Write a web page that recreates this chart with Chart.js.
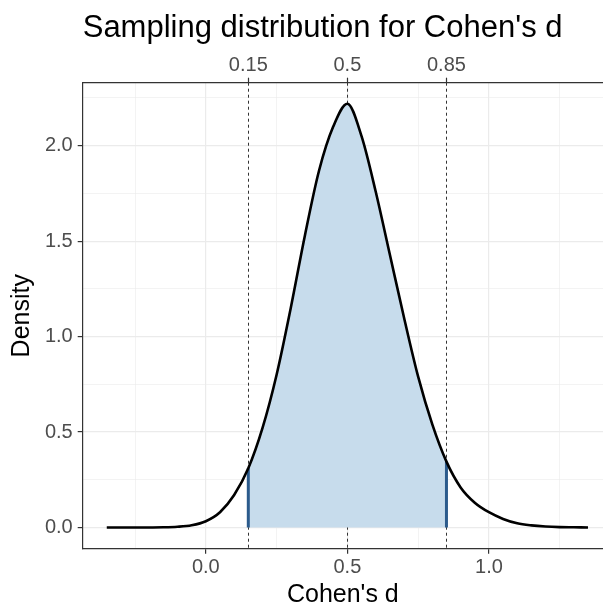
<!DOCTYPE html>
<html>
<head>
<meta charset="utf-8">
<script src="https://cdn.jsdelivr.net/npm/chart.js@4.4.1/dist/chart.umd.min.js"></script>
<style>
  html, body { margin: 0; padding: 0; background: #fff; overflow: hidden; }
  #wrap { width: 603px; height: 610px; }
</style>
</head>
<body>
<div id="wrap"><canvas id="cohenChart" width="603" height="610"></canvas></div>
<script>
// values
const cohensD = [
  -0.35, -0.3, -0.25, -0.2, -0.15, -0.1, -0.05, 0, 0.05, 0.1, 0.15, 0.2,
  0.25, 0.3, 0.35, 0.4, 0.45, 0.5, 0.55, 0.6, 0.65, 0.7, 0.75, 0.8, 0.85,
  0.9, 0.95, 1, 1.05, 1.1, 1.15, 1.2, 1.25, 1.3, 1.35,
];
const density = [
  0, 0, 0, 0.0003, 0.001, 0.004, 0.012, 0.033, 0.08, 0.17, 0.31, 0.52,
  0.8, 1.15, 1.53, 1.87, 2.1, 2.22, 2.05, 1.76, 1.43, 1.1, 0.79, 0.54, 0.345,
  0.21, 0.13, 0.08, 0.045, 0.022, 0.011, 0.005, 0.002, 0.001, 0,
];
const markers = [0.15, 0.5, 0.85];
const shadeFrom = 0.15;
const shadeTo = 0.85;
const xTicks = [-0.25, 0, 0.25, 0.5, 0.75, 1, 1.25];
const xMajor = [0, 0.5, 1];
const yTicks = [0, 0.25, 0.5, 0.75, 1, 1.25, 1.5, 1.75, 2, 2.25];
const yMajor = [0, 0.5, 1, 1.5, 2];
// the panel runs past the right edge of the picture, so it is cut at 1.403
const xRange = [-0.435, 1.403];
const yRange = [-0.111, 2.33];
const chartTitle = "Sampling distribution for Cohen's d";

const font = '"Liberation Sans", Arial, sans-serif';
const isMajor = (list, v) => list.some((m) => Math.abs(m - v) < 1e-9);
const points = cohensD.map((d, i) => ({ x: d, y: density[i] }));
const heightAt = (v) => density[cohensD.findIndex((d) => Math.abs(d - v) < 1e-9)];
const inShade = (v) => v >= shadeFrom - 1e-9 && v <= shadeTo + 1e-9;

const setTicks = (list) => (axis) => {
  axis.ticks = list.map((v) => ({ value: v }));
};

const ctx = document.getElementById("cohenChart");

new Chart(ctx, {
  type: "line",
  data: {
    datasets: [
      {
        label: "density",
        data: points,
        borderColor: "#000",
        borderWidth: 2.6,
        pointRadius: 0,
        fill: false,
        cubicInterpolationMode: "monotone",
      },
      {
        label: "lower",
        data: [{ x: shadeFrom, y: 0 }, { x: shadeFrom, y: heightAt(shadeFrom) }],
        borderColor: "#2c5b8c",
        borderWidth: 3,
        pointRadius: 0,
        fill: false,
      },
      {
        label: "upper",
        data: [{ x: shadeTo, y: 0 }, { x: shadeTo, y: heightAt(shadeTo) }],
        borderColor: "#2c5b8c",
        borderWidth: 3,
        pointRadius: 0,
        fill: false,
      },
      {
        label: "shade",
        data: points,
        borderWidth: 0,
        borderColor: "rgba(0,0,0,0)",
        pointRadius: 0,
        cubicInterpolationMode: "monotone",
        fill: "origin",
        backgroundColor: "#c7dcec",
        segment: {
          backgroundColor: (c) =>
            inShade(c.p0.parsed.x) && inShade(c.p1.parsed.x)
              ? "#c7dcec"
              : "rgba(0,0,0,0)",
        },
      },
    ],
  },
  options: {
    responsive: false,
    animation: false,
    layout: {
      padding: { top: 0, left: 0, right: 0, bottom: 0 },
    },
    scales: {
      x: {
        type: "linear",
        position: "bottom",
        min: xRange[0],
        max: xRange[1],
        afterBuildTicks: setTicks(xTicks),
        afterFit: (s) => {
          s.height = 61.3;
        },
        border: { color: "#333", width: 1.2 },
        grid: {
          color: "#ebebeb",
          lineWidth: (c) => (isMajor(xMajor, c.tick.value) ? 1.2 : 0.6),
          tickColor: (c) => (isMajor(xMajor, c.tick.value) ? "#333" : "rgba(0,0,0,0)"),
          tickWidth: 1.2,
          tickLength: 5,
        },
        ticks: {
          autoSkip: false,
          maxRotation: 0,
          padding: 2,
          color: "#4d4d4d",
          font: { family: font, size: 20 },
          callback: (v) => (isMajor(xMajor, v) ? v.toFixed(1) : ""),
        },
        title: {
          display: true,
          text: "Cohen's d",
          color: "#000",
          font: { family: font, size: 25 },
          padding: { top: 0, bottom: 0 },
        },
      },
      x2: {
        type: "linear",
        position: "top",
        min: xRange[0],
        max: xRange[1],
        afterBuildTicks: setTicks(markers),
        afterFit: (s) => {
          s.height = 82.7;
        },
        border: { color: "#333", width: 1.2 },
        grid: {
          drawOnChartArea: false,
          tickColor: "#333",
          tickWidth: 1.2,
          tickLength: 5,
        },
        ticks: {
          autoSkip: false,
          maxRotation: 0,
          padding: 0,
          color: "#4d4d4d",
          font: { family: font, size: 20 },
          callback: (v) => String(v),
        },
      },
      y: {
        type: "linear",
        min: yRange[0],
        max: yRange[1],
        afterBuildTicks: setTicks(yTicks),
        afterFit: (s) => {
          s.width = 82.7;
        },
        border: { color: "#333", width: 1.2 },
        grid: {
          color: "#ebebeb",
          lineWidth: (c) => (isMajor(yMajor, c.tick.value) ? 1.2 : 0.6),
          tickColor: (c) => (isMajor(yMajor, c.tick.value) ? "#333" : "rgba(0,0,0,0)"),
          tickWidth: 1.2,
          tickLength: 5,
        },
        ticks: {
          autoSkip: false,
          padding: 5,
          color: "#4d4d4d",
          font: { family: font, size: 20 },
          callback: (v) => (isMajor(yMajor, v) ? v.toFixed(1) : ""),
        },
        title: {
          display: true,
          text: "Density",
          color: "#000",
          font: { family: font, size: 25 },
          padding: { top: 7, bottom: 0 },
        },
      },
    },
    plugins: {
      legend: { display: false },
      tooltip: { enabled: false },
    },
  },
  plugins: [
    {
      id: "markerLines",
      beforeDatasetsDraw(c) {
        const { ctx: g, chartArea, scales } = c;
        g.save();
        g.strokeStyle = "#333";
        g.lineWidth = 1;
        g.setLineDash([3, 3]);
        markers.forEach((m) => {
          const px = Math.round(scales.x.getPixelForValue(m)) + 0.5;
          g.beginPath();
          g.moveTo(px, chartArea.top);
          g.lineTo(px, chartArea.bottom);
          g.stroke();
        });
        g.restore();
      },
    },
    {
      id: "plotTitle",
      afterDraw(c) {
        const g = c.ctx;
        g.save();
        g.fillStyle = "#000";
        g.font = "31px " + font;
        g.textAlign = "left";
        g.textBaseline = "alphabetic";
        g.fillText(chartTitle, c.chartArea.left, 37);
        g.restore();
      },
    },
  ],
});
</script>
</body>
</html>
